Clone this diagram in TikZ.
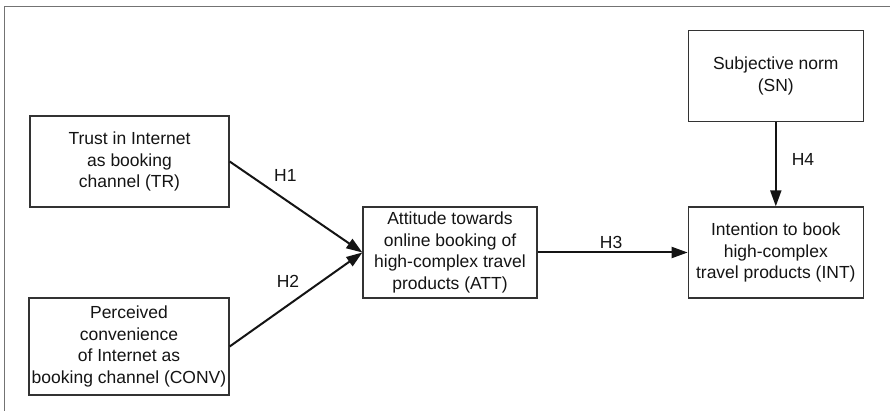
\documentclass[tikz,border=0pt]{standalone}
\usepackage{fontspec}
\setmainfont{Liberation Sans}
\usetikzlibrary{positioning,arrows.meta}

\begin{document}
\begin{tikzpicture}[
    x=1pt, y=-1pt,
    font=\fontsize{17.5}{21.7}\selectfont,
    text=black!92,
    box/.style={draw=black!80, line width=1.3pt, align=center, inner sep=0pt},
    sidebox/.style={box, minimum width=199pt, minimum height=91pt},
    midbox/.style={box, minimum width=175pt, minimum height=91pt},
    arr/.style={-{Triangle[length=16pt,width=11pt]}, line width=2pt, black!92},
    hyp/.style={inner sep=0pt}
  ]
  \useasboundingbox (0,0) rectangle (890,411);

  % ---- outer frame (top and left edge only) ----
  \draw[black!55, line width=1pt] (4,411) -- (4,7) -- (890,7);

  % ---- antecedents ----
  \node[sidebox] (tr) at (129.5,161.5)
    {Trust in Internet\\as booking\\channel (TR)};
  \node[sidebox, minimum width=200pt, minimum height=97pt] (conv) at (129,346.5)
    {Perceived\\convenience\\of Internet as\\booking channel (CONV)};

  % ---- attitude and intention ----
  \node[midbox, minimum width=174pt] (att) at (450,252.5)
    {Attitude towards\\online booking of\\high-complex travel\\products (ATT)};
  \node[midbox, right=150pt of att] (int)
    {Intention to book\\high-complex\\travel products (INT)};
  \node[midbox, above=84pt of int] (sn)
    {Subjective norm\\(SN)};

  % ---- hypotheses ----
  \draw[arr] (tr.east) -- (att.west)
    node[hyp, pos=0.42, above=17pt] (h1) {H1};
  \draw[arr] (conv.east) -- (att.west)
    node[hyp, pos=0.44, above=17pt] (h2) {H2};
  \draw[arr] (att) -- (int)
    node[hyp, pos=0.49, above=3pt] (h3) {H3};
  \draw[arr] (sn) -- (int)
    node[hyp, pos=0.44, right=15pt] (h4) {H4};

\end{tikzpicture}
\end{document}
